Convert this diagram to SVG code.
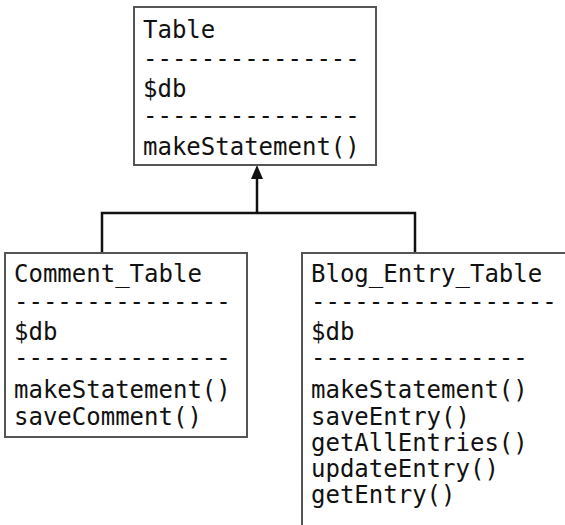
<svg xmlns="http://www.w3.org/2000/svg" width="565" height="525" viewBox="0 0 565 525">
<defs>
<style>
.box{fill:#fff;stroke:#555;stroke-width:2}
.t{font-family:"DejaVu Sans Mono","Liberation Mono",monospace;font-size:24px;fill:#111}
.c{fill:none;stroke:#111;stroke-width:2.5}
</style>
<marker id="ah" viewBox="0 0 12 14" refX="6" refY="0" markerWidth="12" markerHeight="14" markerUnits="userSpaceOnUse" orient="auto-start-reverse">
<path d="M0,14 L6,0 L12,14 Z" fill="#111"/>
</marker>
</defs>
<rect width="565" height="525" fill="#fff"/>
<g id="connectors">
<path class="c" d="M102,253 V213 H415 V253"/>
<path class="c" d="M257,213 V178"/>
<path d="M251,179 L257,165 L263,179 Z" fill="#111"/>
</g>
<g id="table">
<rect class="box" x="134" y="7" width="242" height="158"/>
<text class="t" x="143" y="38">Table</text>
<text class="t" x="143" y="67">---------------</text>
<text class="t" x="143" y="97">$db</text>
<text class="t" x="143" y="124">---------------</text>
<text class="t" x="143" y="155">makeStatement()</text>
</g>
<g id="comment_table">
<rect class="box" x="5" y="253" width="242" height="184"/>
<text class="t" x="14" y="282">Comment_Table</text>
<text class="t" x="14" y="310">---------------</text>
<text class="t" x="14" y="340">$db</text>
<text class="t" x="14" y="366">---------------</text>
<text class="t" x="14" y="398">makeStatement()</text>
<text class="t" x="14" y="425">saveComment()</text>
</g>
<g id="blog_entry_table">
<rect class="box" x="302" y="253" width="280" height="290"/>
<text class="t" x="311" y="282">Blog_Entry_Table</text>
<text class="t" x="311" y="310">-----------------</text>
<text class="t" x="311" y="340">$db</text>
<text class="t" x="311" y="366">---------------</text>
<text class="t" x="311" y="398">makeStatement()</text>
<text class="t" x="311" y="425">saveEntry()</text>
<text class="t" x="311" y="451">getAllEntries()</text>
<text class="t" x="311" y="477">updateEntry()</text>
<text class="t" x="311" y="503">getEntry()</text>
</g>
</svg>
